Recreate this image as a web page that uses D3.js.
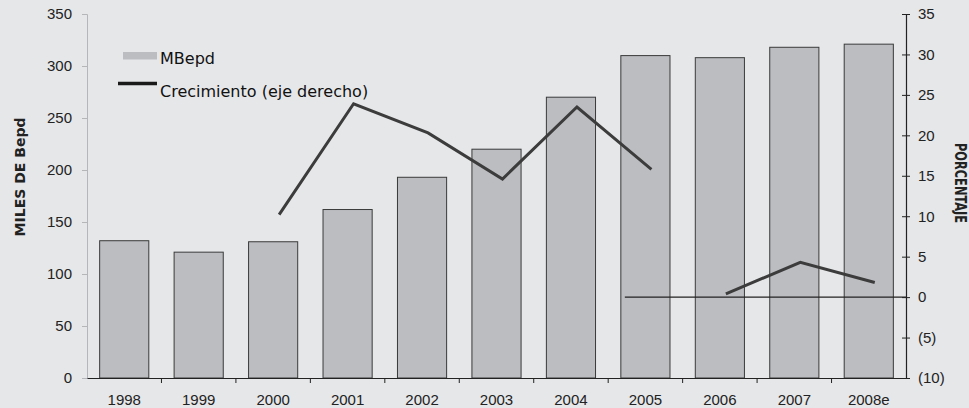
<!DOCTYPE html>
<html><head><meta charset="utf-8">
<script src="https://cdn.jsdelivr.net/npm/d3@7"></script>
<style>
html,body{margin:0;padding:0;background:#e6e7e9;}
svg{display:block;font-family:"DejaVu Sans Condensed","DejaVu Sans",sans-serif;}
</style></head><body>
<svg id="c" width="969" height="408"></svg>
<script>
const categories = ["1998","1999","2000","2001","2002","2003","2004","2005","2006","2007","2008e"];
const mbepd = [132, 121, 131, 162, 193, 220, 270, 310, 308, 318, 321];
const growthA = [[ "2000",10.2],["2001",23.9],["2002",20.3],["2003",14.6],["2004",23.5],["2005",15.8]];
const growthB = [["2006",0.4],["2007",4.3],["2008e",1.8]];
const leftTicks = [0,50,100,150,200,250,300,350];
const rightTicks = [-10,-5,0,5,10,15,20,25,30,35];
const rightTickLabels = ["(10)","(5)","0","5","10","15","20","25","30","35"];

const svg = d3.select("#c");
const L = 87, R = 906, T = 14, B = 378;
const x = d3.scaleBand().domain(categories).range([L, R]).paddingInner(0.34).paddingOuter(0.17);
const xb = d3.scaleBand().domain(categories).range([L, R]).padding(0);
const y = d3.scaleLinear().domain([0,350]).range([B,T]);
const y2 = d3.scaleLinear().domain([-10,35]).range([B,T]);

// left axis
const la = svg.append("g").attr("transform",`translate(${L},0)`)
  .call(d3.axisLeft(y).tickValues(leftTicks).tickSize(5).tickPadding(10));
la.select(".domain").attr("stroke","#b5b6b9");
la.selectAll(".tick line").attr("stroke","#b5b6b9");
la.selectAll("text").attr("font-size",15).attr("fill","#222").attr("font-family","inherit");

// bars
svg.append("g").selectAll("rect").data(categories).join("rect")
  .attr("x", d => x(d)).attr("width", x.bandwidth())
  .attr("y", (d,i) => y(mbepd[i])).attr("height", (d,i) => B - y(mbepd[i]))
  .attr("fill","#bcbdc1").attr("stroke","#3a3a3a").attr("stroke-width",1);

// zero line (right axis)
svg.append("line").attr("x1", x("2005") + 4).attr("x2", R)
  .attr("y1", y2(0)).attr("y2", y2(0)).attr("stroke","#222").attr("stroke-width",1.2);

// bottom axis
const ba = svg.append("g").attr("transform",`translate(0,${B})`)
  .call(d3.axisBottom(xb).tickSize(0).tickPadding(16));
ba.select(".domain").attr("stroke","#222").attr("stroke-width",1.2);
ba.selectAll("text").attr("font-size",15).attr("fill","#222").attr("font-family","inherit");
svg.append("g").selectAll("line").data(categories.slice(1)).join("line")
  .attr("x1", d => xb(d)).attr("x2", d => xb(d)).attr("y1", B).attr("y2", B+5)
  .attr("stroke","#222");

// right axis
const ra = svg.append("g").attr("transform",`translate(${R},0)`)
  .call(d3.axisRight(y2).tickValues(rightTicks).tickSize(4).tickPadding(8)
    .tickFormat((d,i) => rightTickLabels[i]));
ra.select(".domain").attr("stroke","#222").attr("stroke-width",1.2);
ra.selectAll(".tick line").attr("x1",-4).attr("stroke","#222");
ra.selectAll("text").attr("font-size",15).attr("fill","#222").attr("font-family","inherit");

// growth line
const off = 6;
const line = d3.line().x(d => x(d[0]) + x.bandwidth()/2 + off).y(d => y2(d[1]));
[growthA, growthB].forEach(s => svg.append("path").datum(s).attr("d", line)
  .attr("fill","none").attr("stroke","#3c3c3c").attr("stroke-width",3));

// axis titles
svg.append("text").attr("transform","translate(25,177) rotate(-90)")
  .attr("text-anchor","middle").attr("font-family","DejaVu Sans, sans-serif")
  .attr("font-weight","bold").attr("font-size",14)
  .attr("fill","#222").text("MILES DE Bepd");
svg.append("text").attr("transform","translate(955,183) rotate(90)")
  .attr("text-anchor","middle").attr("font-weight","bold").attr("font-size",15)
  .attr("textLength",80).attr("lengthAdjust","spacingAndGlyphs")
  .attr("fill","#222").text("PORCENTAJE");

// legend
const lg = svg.append("g").attr("font-family","DejaVu Sans, sans-serif");
lg.append("rect").attr("x",123).attr("y",52).attr("width",34).attr("height",7.5).attr("fill","#bcbdc1");
lg.append("text").attr("x",160).attr("y",64).attr("font-size",16).attr("fill","#111").text("MBepd");
lg.append("line").attr("x1",118).attr("x2",157).attr("y1",83.5).attr("y2",83.5).attr("stroke","#1a1a1a").attr("stroke-width",3.5);
lg.append("text").attr("x",160).attr("y",97).attr("font-size",16).attr("fill","#111").text("Crecimiento (eje derecho)");
</script></body></html>
